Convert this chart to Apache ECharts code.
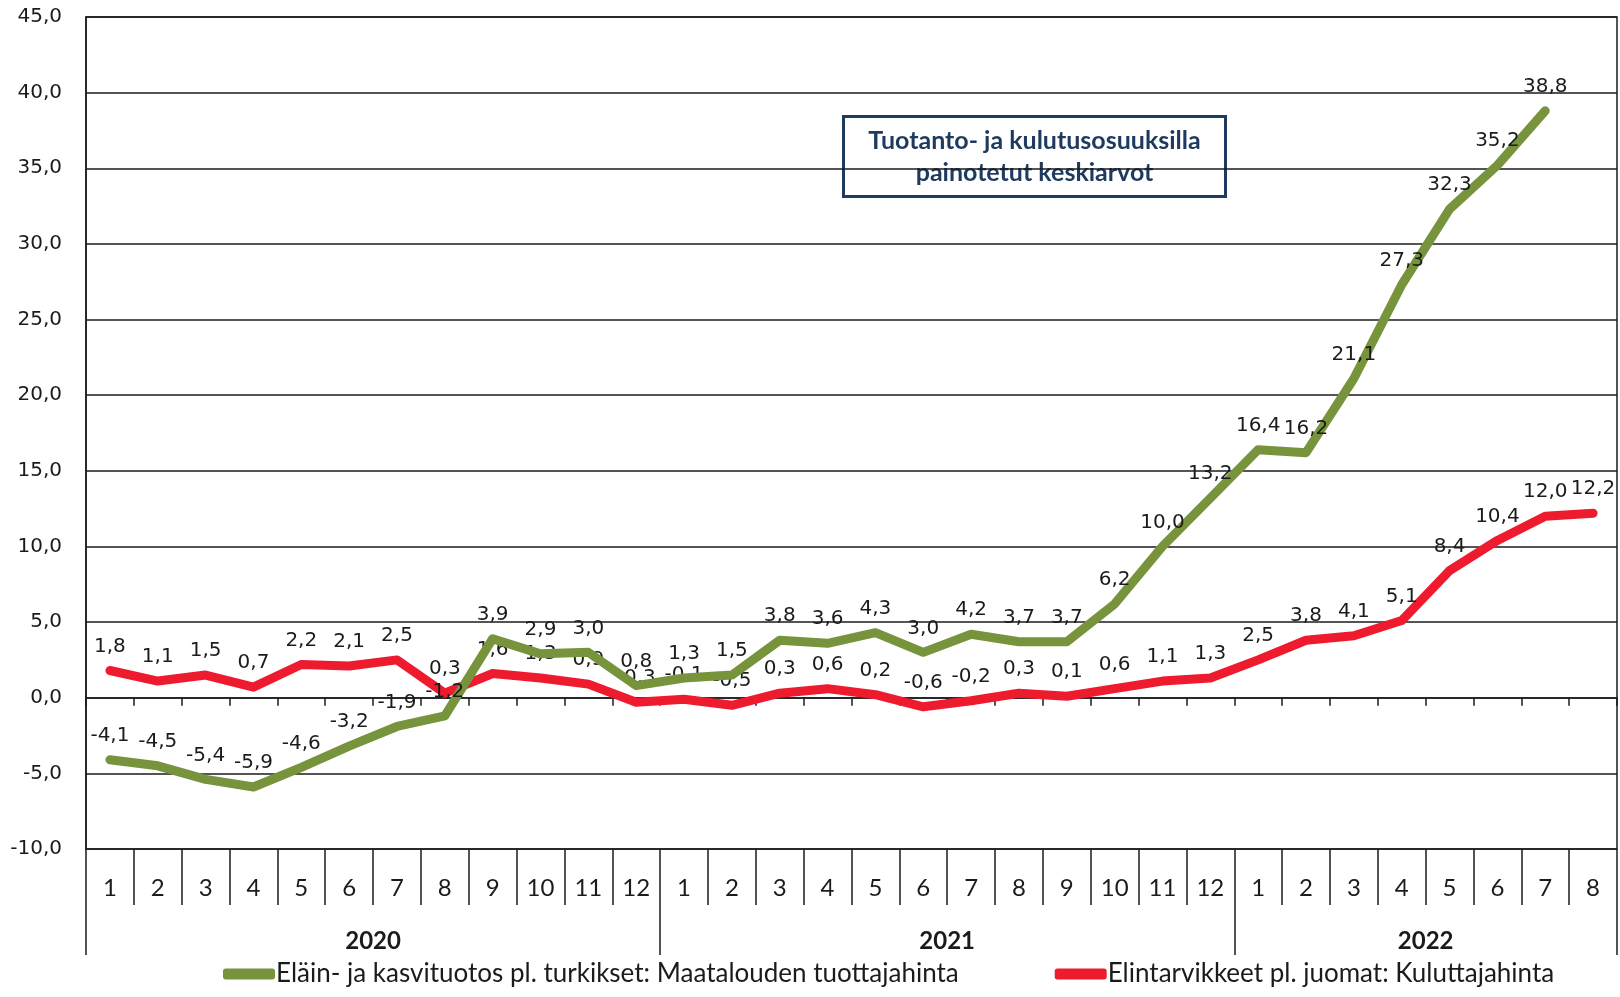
<!DOCTYPE html>
<html>
<head>
<meta charset="utf-8">
<script src="https://cdn.jsdelivr.net/npm/echarts@6/dist/echarts.min.js"></script>
<style>
html,body{margin:0;padding:0;background:#fff;}
#chart{width:1620px;height:997px;}
</style>
</head>
<body>
<div id="chart"></div>
<script>
// ---- data ----
const months = ['1','2','3','4','5','6','7','8','9','10','11','12',
                '1','2','3','4','5','6','7','8','9','10','11','12',
                '1','2','3','4','5','6','7','8'];
const years = ['2020','2021','2022'];
const monthsPerYear = [12, 12, 8];
const producerName = 'Eläin- ja kasvituotos pl. turkikset: Maatalouden tuottajahinta';
const consumerName = 'Elintarvikkeet pl. juomat: Kuluttajahinta';
const producerPrice = [-4.1,-4.5,-5.4,-5.9,-4.6,-3.2,-1.9,-1.2,3.9,2.9,3.0,0.8,
                        1.3,1.5,3.8,3.6,4.3,3.0,4.2,3.7,3.7,6.2,10.0,13.2,
                        16.4,16.2,21.1,27.3,32.3,35.2,38.8,null];
const consumerPrice = [1.8,1.1,1.5,0.7,2.2,2.1,2.5,0.3,1.6,1.3,0.9,-0.3,
                        -0.1,-0.5,0.3,0.6,0.2,-0.6,-0.2,0.3,0.1,0.6,1.1,1.3,
                        2.5,3.8,4.1,5.1,8.4,10.4,12.0,12.2];
const yTicks = {min: -10, max: 45, step: 5};
const boxText = 'Tuotanto- ja kulutusosuuksilla\npainotetut keskiarvot';

// derived year boundaries / centers
const yearBounds = [0];
monthsPerYear.forEach(n => yearBounds.push(yearBounds[yearBounds.length - 1] + n));
const yearCenters = years.map((y, i) => (yearBounds[i] + yearBounds[i + 1]) / 2);

const fmt = v => (v == null ? '' : Number(v).toFixed(1).replace('.', ','));
const GREEN = '#77933C', RED = '#EE1B2E', INK = '#1b1b1b';

const chart = echarts.init(document.getElementById('chart'), null, {renderer: 'canvas'});
const labelStyle = {
  show: true, position: 'top', distance: 13,
  fontFamily: 'DejaVu Sans', fontSize: 20, color: INK,
  formatter: p => fmt(p.value)
};
chart.setOption({
  animation: false,
  backgroundColor: '#fff',
  grid: {left: 86, right: 3, top: 17, bottom: 148, show: true,
         borderColor: INK, borderWidth: 1.5, backgroundColor: 'transparent'},
  legend: {
    data: [producerName, consumerName],
    left: 218, top: 956,
    itemWidth: 52, itemHeight: 11, itemGap: 96, icon: 'roundRect',
    textStyle: {fontFamily: 'Lato', fontSize: 26, color: INK, padding: [0, 0, 0, -4]}
  },
  xAxis: [
    { // axis on zero with small ticks
      type: 'category', data: months, boundaryGap: true,
      axisLine: {onZero: true, lineStyle: {color: INK, width: 1.5}},
      axisTick: {show: true, length: 8, interval: 0, lineStyle: {color: INK, width: 1.5}},
      axisLabel: {show: false}, splitLine: {show: false}
    },
    { // month labels in boxes
      type: 'category', data: months, boundaryGap: true, position: 'bottom',
      axisLine: {show: false, onZero: false},
      axisTick: {show: true, length: 56, interval: 0, lineStyle: {color: INK, width: 1.5}},
      axisLabel: {show: true, interval: 0, margin: 27, fontFamily: 'Lato', fontSize: 24, color: INK},
      splitLine: {show: false}
    },
    { // year groups
      type: 'value', min: 0, max: yearBounds[yearBounds.length - 1], position: 'bottom',
      axisLine: {show: false, onZero: false},
      axisTick: {show: true, length: 106, customValues: yearBounds, lineStyle: {color: INK, width: 1.5}},
      axisLabel: {show: true, customValues: yearCenters, margin: 80,
                  fontFamily: 'Lato', fontSize: 24, fontWeight: 'bold', color: INK,
                  formatter: v => years[yearCenters.indexOf(v)] || ''},
      splitLine: {show: false}
    }
  ],
  yAxis: {
    type: 'value', min: yTicks.min, max: yTicks.max, interval: yTicks.step,
    axisLine: {show: true, lineStyle: {color: INK, width: 1.5}},
    axisTick: {show: false},
    axisLabel: {margin: 24, fontFamily: 'DejaVu Sans', fontSize: 20, color: INK, formatter: fmt},
    splitLine: {show: true, lineStyle: {color: INK, width: 1.5}}
  },
  series: [
    {
      name: consumerName, type: 'line', data: consumerPrice, xAxisIndex: 0,
      symbol: 'circle', symbolSize: 2, showSymbol: true,
      itemStyle: {color: RED}, lineStyle: {color: RED, width: 9, cap: 'round', join: 'round'},
      label: labelStyle, z: 3
    },
    {
      name: producerName, type: 'line', data: producerPrice, xAxisIndex: 0,
      symbol: 'circle', symbolSize: 2, showSymbol: true, connectNulls: false,
      itemStyle: {color: GREEN}, lineStyle: {color: GREEN, width: 9, cap: 'round', join: 'round'},
      label: labelStyle, z: 4
    }
  ],
  graphic: [{
    type: 'group', left: 842, top: 115, z: 10,
    children: [
      {type: 'rect', shape: {x: 0, y: 0, width: 382, height: 80},
       style: {fill: '#fff', stroke: '#1F3A5F', lineWidth: 3}},
      {type: 'text', x: 191, y: 40,
       style: {text: boxText, align: 'center', verticalAlign: 'middle',
               fontFamily: 'Lato', fontWeight: 'bold', fontSize: 25, lineHeight: 32, fill: '#1F3A5F'}}
    ]
  }]
});
</script>
</body>
</html>
